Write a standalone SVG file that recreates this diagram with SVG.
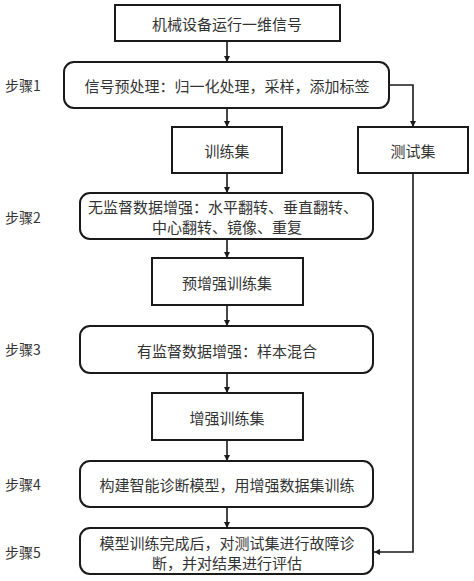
<svg xmlns="http://www.w3.org/2000/svg" width="474" height="581" viewBox="0 0 474 581">
<style>
.b{fill:#fff;stroke:#1a1a1a;stroke-width:2}
.t{font-family:"Noto Sans CJK SC","Liberation Serif",sans-serif;font-size:15px;fill:#333;text-anchor:middle;dominant-baseline:central}
.l{font-family:"Noto Sans CJK SC","Liberation Serif",sans-serif;font-size:14px;fill:#333;dominant-baseline:central}
.c{fill:none;stroke:#1a1a1a;stroke-width:1.6}
</style>
<defs>
<marker id="a" viewBox="0 0 10 10" refX="10" refY="5" markerWidth="6" markerHeight="6" markerUnits="userSpaceOnUse" orient="auto">
<path d="M0,0L10,5L0,10z" fill="#1a1a1a"/>
</marker>
</defs>
<rect width="474" height="581" fill="#fff"/>
<g id="connectors">
<path class="c" d="M227,41V62" marker-end="url(#a)"/>
<path class="c" d="M227,108V127" marker-end="url(#a)"/>
<path class="c" d="M389,85H413V127" marker-end="url(#a)"/>
<path class="c" d="M227,173V193" marker-end="url(#a)"/>
<path class="c" d="M227,239V258" marker-end="url(#a)"/>
<path class="c" d="M227,305V326" marker-end="url(#a)"/>
<path class="c" d="M227,373V393" marker-end="url(#a)"/>
<path class="c" d="M227,440V461" marker-end="url(#a)"/>
<path class="c" d="M227,507V528" marker-end="url(#a)"/>
<path class="c" d="M413,173V552H374" marker-end="url(#a)"/>
</g>
<g id="signal"><rect class="b" x="115" y="5" width="225" height="36"/><text class="t" x="227" y="23">机械设备运行一维信号</text></g>
<g id="step1"><rect class="b" x="64" y="62" width="325" height="46" rx="10"/><text class="t" x="227" y="85">信号预处理：归一化处理，采样，添加标签</text></g>
<g id="label1"><text class="l" x="5" y="85">步骤1</text></g>
<g id="train"><rect class="b" x="172" y="127" width="110" height="46"/><text class="t" x="227" y="150">训练集</text></g>
<g id="test"><rect class="b" x="358" y="127" width="110" height="46"/><text class="t" x="413" y="150">测试集</text></g>
<g id="step2"><rect class="b" x="80" y="193" width="293" height="46" rx="10"/><text class="t" x="223" y="206">无监督数据增强：水平翻转、垂直翻转、</text><text class="t" x="227" y="226">中心翻转、镜像、重复</text></g>
<g id="label2"><text class="l" x="5" y="217">步骤2</text></g>
<g id="pretrain"><rect class="b" x="152" y="258" width="151" height="47"/><text class="t" x="227" y="282">预增强训练集</text></g>
<g id="step3"><rect class="b" x="80" y="326" width="293" height="47" rx="10"/><text class="t" x="227" y="350">有监督数据增强：样本混合</text></g>
<g id="label3"><text class="l" x="5" y="349">步骤3</text></g>
<g id="augtrain"><rect class="b" x="152" y="393" width="151" height="47"/><text class="t" x="227" y="417">增强训练集</text></g>
<g id="step4"><rect class="b" x="80" y="461" width="293" height="46" rx="10"/><text class="t" x="227" y="484">构建智能诊断模型，用增强数据集训练</text></g>
<g id="label4"><text class="l" x="5" y="484">步骤4</text></g>
<g id="step5"><rect class="b" x="80" y="528" width="293" height="46" rx="10"/><text class="t" x="227" y="542">模型训练完成后，对测试集进行故障诊</text><text class="t" x="227" y="562">断，并对结果进行评估</text></g>
<g id="label5"><text class="l" x="5" y="552">步骤5</text></g>
</svg>
